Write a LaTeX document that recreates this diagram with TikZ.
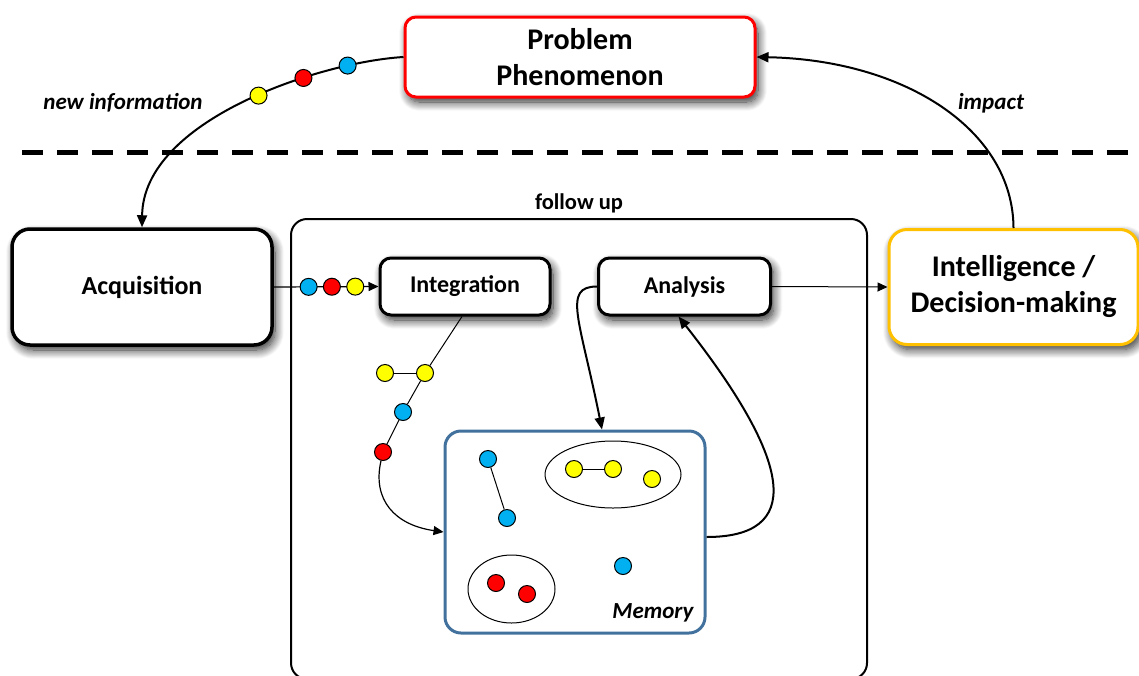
\documentclass[tikz,border=0pt]{standalone}
\usepackage{fontspec}
\setmainfont{Carlito}
\usetikzlibrary{arrows.meta,positioning,shapes.geometric,shadows.blur}
\definecolor{Cyan}{HTML}{00B0F0}
\definecolor{Red}{HTML}{FF0000}
\definecolor{Yellow}{HTML}{FFFF00}
\definecolor{Amber}{HTML}{FFC000}
\definecolor{Steel}{HTML}{41719C}

\begin{document}
\begin{tikzpicture}[
  x=1pt,y=-1pt,
  soft/.style={blur shadow={shadow xshift=3pt,shadow yshift=-5pt,shadow blur radius=9pt,shadow blur steps=12,shadow opacity=85}},
  box/.style={draw,fill=white,line width=3pt,rounded corners=11pt,align=center,inner sep=0pt,font=\bfseries\fontsize{24}{28}\selectfont,soft},
  frame/.style={draw,line width=2pt,rounded corners=16pt,minimum width=576pt,minimum height=460pt,inner sep=0pt},
  membox/.style={draw=Steel,fill=white,line width=3pt,rounded corners=16pt,minimum width=260pt,minimum height=202pt,inner sep=0pt},
  group/.style={ellipse,draw,line width=1pt,inner sep=0pt},
  ball/.style={circle,draw,line width=1pt,minimum size=17pt,inner sep=0pt},
  note/.style={inner sep=0pt,font=\bfseries\itshape\fontsize{23}{27}\selectfont},
  tag/.style={inner sep=0pt,font=\bfseries\fontsize{22.5}{26}\selectfont},
  arr/.style={-{Triangle[length=12pt,width=10pt]},line width=2pt},
  fine/.style={-{Triangle[length=10pt,width=9pt]},line width=1.2pt},
  sep/.style={line width=5pt,dash pattern=on 21pt off 14pt}
]
\useasboundingbox (0,0) rectangle (1139,675);
\coordinate (dl) at (22,152);
\coordinate (dr) at (1139,152);
\draw[sep] (dl) -- (dr);
\node[frame] (fu) at (579,449) {};
\node[tag,above=5pt of fu] (fulbl) {follow up};
\node[box,draw=Red,minimum width=350pt,minimum height=80pt,font=\bfseries\fontsize{30}{36}\selectfont] (prob) at (580,57) {Problem\\Phenomenon};
\node[box,line width=3.5pt,rounded corners=18pt,minimum width=260pt,minimum height=116pt,font=\bfseries\fontsize{26}{30}\selectfont] (acq) at (142,287) {Acquisition};
\node[box,minimum width=170pt,minimum height=57pt] (integ) at (465,286.5) {Integration};
\node[box,minimum width=172pt,minimum height=57pt] (analysis) at (684.5,286.5) {Analysis};
\node[box,draw=Amber,rounded corners=18pt,minimum width=249pt,minimum height=115pt,font=\bfseries\fontsize{30}{36}\selectfont] (intel) at (1013.5,287) {Intelligence /\\Decision-making};
\node[membox] (mem) at (575,532) {};
\node[note] (newinfo) at (123,103) {new information};
\node[note] (impact) at (991,103) {impact};
\node[note] (memlbl) at (653,613) {Memory};

\draw[arr] (prob.west) .. controls (320,62) and (143,120) ..
  node[ball,fill=Cyan,pos=.19] (t1) {}
  node[ball,fill=Red,pos=.32] (t2) {}
  node[ball,fill=Yellow,pos=.45] (t3) {} (acq.north);
\draw[arr] (intel.north) .. controls (1013,130) and (905,60) .. (prob.east);
\draw[fine] (acq.east) --
  node[ball,fill=Cyan,pos=.333] (a1) {}
  node[ball,fill=Red,pos=.555] (a2) {}
  node[ball,fill=Yellow,pos=.778] (a3) {} (integ.west);
\draw[fine,line width=1pt] (analysis.east) -- (intel.west);

\node[ball,fill=Yellow] (y2) at (425,373) {};
\node[ball,fill=Yellow,left=22pt of y2] (y1) {};
\node[ball,fill=Cyan] (b1) at (403,412) {};
\node[ball,fill=Red] (r1) at (383,452) {};
\draw[line width=1pt] ([xshift=-3pt]integ.south) -- (y2) -- (b1) -- (r1);
\draw[line width=1pt] (y1) -- (y2);
\draw[fine] (r1) .. controls (372,500) and (395,525) .. (mem.west);

\node[group,minimum width=136pt,minimum height=67pt] (grpy) at (613,474.5) {};
\node[group,minimum width=87pt,minimum height=68pt] (grpr) at (511.5,589) {};
\node[ball,fill=Cyan] (m1) at (488,459) {};
\node[ball,fill=Cyan] (m2) at (507,518) {};
\node[ball,fill=Yellow] (m3) at (574,469) {};
\node[ball,fill=Yellow] (m4) at (613,469) {};
\node[ball,fill=Yellow] (m5) at (652,479) {};
\node[ball,fill=Red] (m6) at (496,583) {};
\node[ball,fill=Red] (m7) at (527,594) {};
\node[ball,fill=Cyan] (m8) at (623,566) {};
\draw[line width=1pt] (m1) -- (m2);
\draw[line width=1pt] (m3) -- (m4);

\draw[arr] (analysis.west) .. controls +(-35,0) and +(-22,-110) .. ([xshift=27pt]mem.north);
\draw[arr] ([yshift=-5pt]mem.east) .. controls +(95,0) and +(118,150) .. ([xshift=-6pt]analysis.south);
\end{tikzpicture}
\end{document}
